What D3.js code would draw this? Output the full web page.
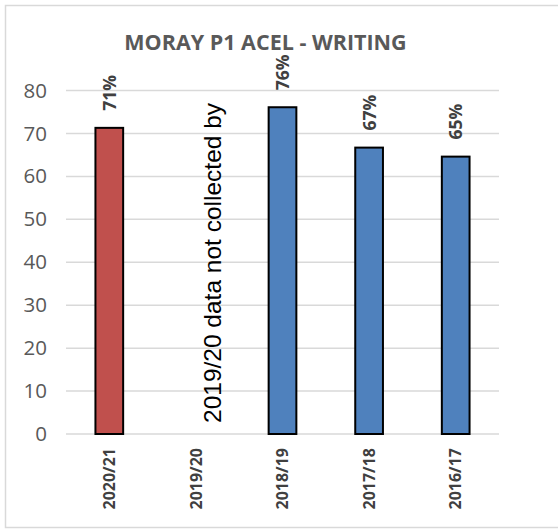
<!DOCTYPE html>
<html>
<head>
<meta charset="utf-8">
<script src="https://cdnjs.cloudflare.com/ajax/libs/d3/7.8.5/d3.min.js"></script>
<style>
  body { margin: 0; background: #fff; }
  svg { display: block; }
</style>
</head>
<body>
<div id="chart"></div>
<script>
// chart data
var years = ["2020/21", "2019/20", "2018/19", "2017/18", "2016/17"];
var values = [71.3, null, 76.1, 66.7, 64.6];
var labels = ["71%", "", "76%", "67%", "65%"];
var barColors = ["#C0504D", "#4F81BD", "#4F81BD", "#4F81BD", "#4F81BD"];
var yTicks = [0, 10, 20, 30, 40, 50, 60, 70, 80];
var note = "2019/20 data not collected by";

var width = 558, height = 529;
var margin = {top: 90.5, right: 59, bottom: 95, left: 66};
var plotW = width - margin.left - margin.right,
    plotH = height - margin.top - margin.bottom;

var svg = d3.select("#chart").append("svg")
    .attr("width", width)
    .attr("height", height);

// outer frame
svg.append("rect")
    .attr("x", 5.5).attr("y", 5.5)
    .attr("width", 560).attr("height", 522)
    .attr("fill", "none")
    .attr("stroke", "#d9d9d9")
    .attr("stroke-width", 1.5);

svg.append("text")
    .attr("x", 265.5).attr("y", 50)
    .attr("text-anchor", "middle")
    .style("font-family", "'Open Sans', sans-serif")
    .style("font-weight", "bold")
    .style("font-size", "21.5px")
    .attr("fill", "#595959")
    .text("MORAY P1 ACEL - WRITING");

var g = svg.append("g")
    .attr("transform", "translate(" + margin.left + "," + margin.top + ")");

var x = d3.scaleBand().domain(years).range([0, plotW]).paddingInner(0.68).paddingOuter(0.34);
var y = d3.scaleLinear().domain([0, 80]).range([plotH, 0]);

// gridlines
g.selectAll(".grid")
    .data(yTicks)
  .enter().append("line")
    .attr("x1", 0).attr("x2", plotW)
    .attr("y1", function(d) { return y(d); })
    .attr("y2", function(d) { return y(d); })
    .attr("stroke", "#d9d9d9")
    .attr("stroke-width", 1.5);

// y axis labels
var yAxis = g.append("g")
    .call(d3.axisLeft(y).tickValues(yTicks).tickSize(0).tickPadding(19));
yAxis.select(".domain").remove();
yAxis.selectAll("text")
    .style("font-family", "'Open Sans', sans-serif")
    .style("font-size", "20.5px")
    .attr("fill", "#595959");

// bars
var data = years.map(function(d, i) { return {year: d, value: values[i], label: labels[i], color: barColors[i]}; })
    .filter(function(d) { return d.value != null; });

g.selectAll(".bar")
    .data(data)
  .enter().append("rect")
    .attr("x", function(d) { return x(d.year); })
    .attr("width", x.bandwidth())
    .attr("y", function(d) { return y(d.value); })
    .attr("height", function(d) { return plotH - y(d.value); })
    .attr("fill", function(d) { return d.color; })
    .attr("stroke", "#000")
    .attr("stroke-width", 2);

// data labels
g.selectAll(".lbl")
    .data(data)
  .enter().append("text")
    .attr("transform", function(d) {
      return "translate(" + (x(d.year) + x.bandwidth() / 2 + 6.5) + "," + (y(d.value) - 17) + ") rotate(-90)";
    })
    .style("font-family", "'Open Sans', sans-serif")
    .style("font-weight", "bold")
    .style("font-size", "17.5px")
    .attr("fill", "#404040")
    .text(function(d) { return d.label; });

// x axis labels
var xAxis = g.append("g")
    .attr("transform", "translate(0," + plotH + ")")
    .call(d3.axisBottom(x).tickSize(0));
xAxis.select(".domain").remove();
xAxis.selectAll("text")
    .attr("transform", "rotate(-90)")
    .attr("text-anchor", "end")
    .attr("x", -14)
    .attr("y", 0)
    .attr("dy", "0.35em")
    .style("font-family", "'Open Sans', sans-serif")
    .style("font-weight", "bold")
    .style("font-size", "16px")
    .attr("fill", "#404040");

// note for missing year
g.append("text")
    .attr("transform", "translate(" + (x("2019/20") + x.bandwidth() / 2 + 25) + "," + (plotH - 11) + ") rotate(-90)")
    .style("font-family", "'Liberation Sans', Arial, sans-serif")
    .style("font-size", "24.5px")
    .attr("fill", "#000")
    .text(note);
</script>
</body>
</html>
